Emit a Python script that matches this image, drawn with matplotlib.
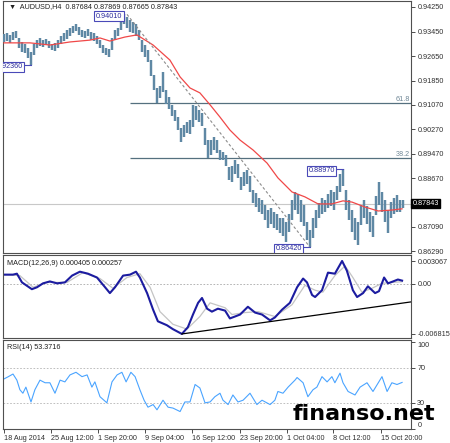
import matplotlib.pyplot as plt
import matplotlib.transforms as mtransforms

plt.rcParams['font.family'] = ['Liberation Sans', 'DejaVu Sans']

# ---- AUDUSD H4, bar index counted from the left edge of the chart ----
high = [0.9337, 0.9340, 0.9334, 0.9344, 0.9347, 0.9324, 0.9311, 0.9304, 0.9291, 0.9278,
        0.9304, 0.9317, 0.9324, 0.9317, 0.9321, 0.9314, 0.9304, 0.9308, 0.9317, 0.9330,
        0.9340, 0.9350, 0.9357, 0.9363, 0.9370, 0.9360, 0.9350, 0.9347, 0.9353, 0.9344,
        0.9340, 0.9330, 0.9317, 0.9301, 0.9291, 0.9288, 0.9324, 0.9350, 0.9357, 0.9389,
        0.9401, 0.9392, 0.9383, 0.9376, 0.9370, 0.9350, 0.9317, 0.9301, 0.9285, 0.9252,
        0.9203, 0.9161, 0.9167, 0.9213, 0.9154, 0.9132, 0.9106, 0.9089, 0.9066, 0.9031,
        0.9040, 0.9050, 0.9057, 0.9106, 0.9102, 0.9089, 0.9079, 0.9031, 0.8991, 0.8991,
        0.9001, 0.8991, 0.8959, 0.8952, 0.8943, 0.8903, 0.8907, 0.8926, 0.8913, 0.8871,
        0.8887, 0.8894, 0.8874, 0.8828, 0.8819, 0.8802, 0.8796, 0.8780, 0.8763, 0.8770,
        0.8757, 0.8750, 0.8737, 0.8737, 0.8724, 0.8750, 0.8796, 0.8822, 0.8815, 0.8796,
        0.8780, 0.8724, 0.8698, 0.8737, 0.8763, 0.8786, 0.8802, 0.8796, 0.8815, 0.8828,
        0.8822, 0.8841, 0.8881, 0.8897, 0.8828, 0.8796, 0.8763, 0.8737, 0.8724, 0.8780,
        0.8796, 0.8776, 0.8757, 0.8744, 0.8809, 0.8855, 0.8822, 0.8796, 0.8763, 0.8789,
        0.8802, 0.8812, 0.8796, 0.8796]
low = [0.9311, 0.9314, 0.9308, 0.9317, 0.9324, 0.9291, 0.9278, 0.9275, 0.9259, 0.9236,
       0.9269, 0.9291, 0.9298, 0.9295, 0.9301, 0.9291, 0.9285, 0.9282, 0.9291, 0.9304,
       0.9314, 0.9321, 0.9330, 0.9340, 0.9347, 0.9334, 0.9327, 0.9324, 0.9330, 0.9317,
       0.9314, 0.9304, 0.9291, 0.9275, 0.9269, 0.9262, 0.9285, 0.9317, 0.9330, 0.9350,
       0.9370, 0.9357, 0.9344, 0.9340, 0.9330, 0.9317, 0.9278, 0.9262, 0.9246, 0.9200,
       0.9154, 0.9112, 0.9128, 0.9148, 0.9109, 0.9093, 0.9070, 0.9053, 0.9024, 0.8985,
       0.9001, 0.9014, 0.9011, 0.9034, 0.9057, 0.9050, 0.9037, 0.8975, 0.8933, 0.8943,
       0.8959, 0.8949, 0.8926, 0.8926, 0.8907, 0.8861, 0.8855, 0.8881, 0.8868, 0.8828,
       0.8841, 0.8848, 0.8822, 0.8786, 0.8773, 0.8757, 0.8750, 0.8731, 0.8705, 0.8718,
       0.8705, 0.8698, 0.8688, 0.8678, 0.8659, 0.8692, 0.8731, 0.8763, 0.8750, 0.8724,
       0.8711, 0.8665, 0.8642, 0.8672, 0.8705, 0.8737, 0.8750, 0.8757, 0.8770, 0.8776,
       0.8763, 0.8796, 0.8822, 0.8841, 0.8763, 0.8731, 0.8692, 0.8665, 0.8649, 0.8714,
       0.8737, 0.8718, 0.8692, 0.8675, 0.8747, 0.8780, 0.8757, 0.8724, 0.8688, 0.8737,
       0.8750, 0.8757, 0.8757, 0.8770]
bars = list(range(len(high)))
last_price = 0.87843

# moving average (red)
ma_x = [0, 8.7, 15.3, 22, 28.7, 32, 35.3, 40.3, 44.3, 49.7, 55.3, 58.7, 62, 65.3, 68.7, 72,
        75.3, 78.7, 83, 87.7, 91.3, 96, 100.3, 104.7, 109.3, 113, 116, 120.3, 124.7, 129.3, 132.7]
ma_y = [0.9308, 0.9308, 0.9301, 0.9311, 0.9317, 0.9324, 0.9314, 0.9327, 0.9334, 0.9301, 0.9252,
        0.9197, 0.9161, 0.9145, 0.9106, 0.9066, 0.9024, 0.8991, 0.8959, 0.8916, 0.8868, 0.8822,
        0.8806, 0.8783, 0.8783, 0.8793, 0.8789, 0.8773, 0.8760, 0.8763, 0.8767]

# swing labels: value, bar of the extreme, bar where the label box ends
swing_val = [0.94010, 0.92360, 0.88970, 0.86420]
swing_bar = [40, 9, 113, 102]
swing_lab = [39.4, 6.3, 110.3, 99.3]

# trend line high -> low, fibonacci levels
trend_x = [41, 102]
trend_y = [0.9401, 0.8642]
fib_ratio = [0.618, 0.382]
fib_text = ['61.8', '38.2']
fib_start = 42

price_ticks = [0.94250, 0.93450, 0.92650, 0.91850, 0.91070, 0.90270, 0.89470, 0.88670, 0.87090, 0.86290]

# MACD(12,26,9)
macd_x = [0, 3, 4.3, 6, 9.3, 11, 13, 15.3, 17.7, 20.3, 22.7, 25.3, 28, 31, 33.7, 35.3, 37, 39.7, 42, 44,
          45.3, 47.7, 49.7, 51.3, 54.3, 56.3, 59.3, 61.3, 63, 64.7, 66, 67.7, 69.3, 71.3, 73.7, 75.3, 77,
          78.7, 81.3, 83.7, 86, 88.7, 90.3, 92.7, 95.3, 97.7, 99.7, 101, 102.7, 103.7, 106, 108, 110.3,
          112.7, 114.3, 116.3, 117.7, 119.7, 121.3, 123.7, 125, 126.7, 128, 129.7, 131.3, 132.7]
macd_v = [0.00122, 0.00122, 0.00135, 0.00017, -0.00075, -0.00049, 0.00004, 0.00030, 0.00004, 0.00017,
          0.00109, 0.00162, 0.00135, 0.00083, -0.00049, -0.00128, -0.00049, 0.00109, 0.00122, 0.00162,
          0.00083, -0.00128, -0.00352, -0.00510, -0.00563, -0.00616, -0.00681, -0.00589, -0.00418, -0.00260,
          -0.00194, -0.00339, -0.00379, -0.00339, -0.00365, -0.00471, -0.00445, -0.00418, -0.00313, -0.00392,
          -0.00418, -0.00497, -0.00458, -0.00352, -0.00260, -0.00049, 0.00069, 0.00017, -0.00154, -0.00181,
          -0.00089, 0.00149, 0.00135, 0.00307, 0.00175, -0.00089, -0.00181, -0.00128, -0.00036, -0.00128,
          -0.00102, 0.00083, 0.00004, 0.00030, 0.00056, 0.00041]
sig_x = [0, 5.3, 9.7, 14.3, 21, 26.3, 32, 36.3, 41, 45.3, 48.7, 52, 56.3, 61, 65.3, 68.7, 73.7, 76,
         80.3, 84.7, 90.3, 96, 100.3, 103.7, 106.3, 110.3, 113.7, 116.3, 119.3, 122.7, 126, 129.3, 132.7]
sig_v = [0.00122, 0.00109, -0.00049, 0.00017, 0.00017, 0.00149, 0.00069, -0.00062, 0.00083, 0.00135,
         -0.00049, -0.00379, -0.00550, -0.00616, -0.00445, -0.00260, -0.00326, -0.00418, -0.00392,
         -0.00379, -0.00445, -0.00286, -0.00023, -0.00089, -0.00115, 0.00109, 0.00241, 0.00083,
         -0.00115, -0.00062, 0.00004, 0.00017, 0.00026]
macd_trend_x = [59.3, 135.7]
macd_trend_y = [-0.00681, -0.00247]
macd_ticks = [0.003067, 0.0, -0.006815]
macd_ticklabels = ['0.003067', '0.00', '-0.006815']

# RSI(14)
rsi_x = [0, 1.3, 3, 4.3, 5.3, 6.3, 7.3, 9, 10.3, 12,
         13.7, 15.3, 17, 18.7, 20.3, 22, 24, 26, 27.7, 29.3,
         30.3, 32, 34.3, 36, 37.7, 39.3, 40.7, 42.3, 43.7, 45.3,
         46.7, 48, 49.7, 51, 53, 54.7, 56.3, 58.7, 60.3, 62,
         63.7, 65.3, 67, 68.7, 70.3, 72, 73, 74.7, 76.3, 78,
         79.7, 82, 84.3, 86, 88.7, 90.3, 91.3, 93, 94.7, 97,
         97.7, 99.7, 101.3, 103, 104.3, 106, 107.7, 109.3, 110.3, 112,
         113, 114.7, 117, 118.7, 121, 123, 126, 127.7, 129.3, 131, 132.7]
rsi_v = [57.4, 59.7, 63, 56, 45, 41, 48, 31, 45, 56,
         53, 53, 41, 56, 54, 62, 65, 60, 62, 48,
         54, 37, 30, 54, 62, 65, 54, 65, 60, 45,
         33, 25, 28, 22, 33, 25, 24, 20, 31, 31,
         51, 47, 30, 31, 37, 41, 33, 28, 39, 31,
         33, 41, 28, 33, 28, 33, 43, 41, 48, 56,
         59, 53, 37, 45, 48, 60, 54, 60, 53, 64,
         53, 43, 39, 48, 53, 43, 60, 43, 53, 51, 53.37]

date_pos = [0, 15.67, 31.33, 47, 62.67, 78.67, 94.33, 109.67, 125.67]
date_labels = ['18 Aug 2014', '25 Aug 12:00', '1 Sep 20:00', '9 Sep 04:00', '16 Sep 12:00',
               '23 Sep 20:00', '1 Oct 04:00', '8 Oct 12:00', '15 Oct 20:00']

# ---- layout (pixel boxes of the three windows) ----
W, H = 450.0, 443.0
fig = plt.figure(figsize=(4.5, 4.43), dpi=100)

def box(x0, y0, x1, y1):
    return [x0 / W, 1 - y1 / H, (x1 - x0) / W, (y1 - y0) / H]

ax1 = fig.add_axes(box(3, 1, 411, 253))
ax2 = fig.add_axes(box(3, 255, 411, 338))
ax3 = fig.add_axes(box(3, 340, 411, 429))
xmin, xmax = -0.33, 135.67
fs = 5.2

for ax in (ax1, ax2, ax3):
    ax.set_xlim(xmin, xmax)
    ax.yaxis.tick_right()
    ax.tick_params(axis='y', labelsize=fs, length=3, width=0.6, pad=1.5, colors='#303030')
    for sp in ax.spines.values():
        sp.set_color('#505050')
        sp.set_linewidth(0.8)
for ax in (ax1, ax2):
    ax.tick_params(axis='x', bottom=False, labelbottom=False)

# ---- price window ----
ax1.set_ylim(0.8623, 0.94445)
ax1.axhline(last_price, color='#c8c8c8', lw=0.8, zorder=1)
hi_, lo_ = trend_y[0], trend_y[1]
for r, t in zip(fib_ratio, fib_text):
    lvl = lo_ + r * (hi_ - lo_)
    ax1.hlines(lvl, fib_start, xmax, color='#55707f', lw=0.9, zorder=2)
    ax1.text(xmax - 0.4, lvl, t, ha='right', va='bottom', fontsize=fs, color='#6f8796')
ax1.vlines(bars, low, high, color='#5f88a4', lw=1.75, zorder=3)
ax1.plot(ma_x, ma_y, color='#f04848', lw=0.9, zorder=4)
ax1.plot(trend_x, trend_y, color='#8c8c8c', lw=0.8, ls=(0, (2.5, 2)), zorder=4)
for v, b, lb in zip(swing_val, swing_bar, swing_lab):
    ax1.plot([lb, b], [v, v], color='#4a4ab8', lw=0.8, zorder=5)
    ax1.annotate(f'{v:.5f}', xy=(lb, v), xytext=(0, -1.2), textcoords='offset points',
                 ha='right', va='center', fontsize=fs, color='#2c2c9c', zorder=6,
                 annotation_clip=False, clip_on=True,
                 bbox=dict(boxstyle='square,pad=0.2', fc='white', ec='#4a4ab8', lw=0.8))
ax1.set_yticks(price_ticks)
ax1.set_yticklabels([f'{v:.5f}' for v in price_ticks])
trans = mtransforms.blended_transform_factory(ax1.transAxes, ax1.transData)
ax1.text(1.004, last_price, f'{last_price:.5f}', transform=trans, ha='left', va='center',
         fontsize=fs, color='white', clip_on=False,
         bbox=dict(boxstyle='square,pad=0.2', fc='black', ec='black'))
ax1.text(0.014, 0.977, '\u25bc  AUDUSD,H4  0.87684 0.87869 0.87665 0.87843', transform=ax1.transAxes,
         ha='left', va='center', fontsize=fs, color='#202020', zorder=7)

# ---- MACD window ----
ax2.set_ylim(-0.00736, 0.00388)
ax2.axhline(0, color='#a8a8a8', lw=0.6, ls=(0, (2, 2)))
ax2.plot(sig_x, sig_v, color='#c4c4c4', lw=0.9)
ax2.plot(macd_x, macd_v, color='#1c1ca0', lw=1.5)
ax2.plot(macd_trend_x, macd_trend_y, color='black', lw=0.9)
ax2.set_yticks(macd_ticks)
ax2.set_yticklabels(macd_ticklabels)
ax2.text(0.01, 0.9, 'MACD(12,26,9) 0.000405 0.000257', transform=ax2.transAxes,
         ha='left', va='center', fontsize=fs, color='#202020')

# ---- RSI window ----
ax3.set_ylim(0, 102)
for lv in (70, 30):
    ax3.axhline(lv, color='#b4b4b4', lw=0.6, ls=(0, (2, 2)))
ax3.plot(rsi_x, rsi_v, color='#4aa4ff', lw=0.8)
ax3.set_yticks([100, 70, 30, 0])
ax3.set_yticklabels(['100', '70', '30', '0'])
ylabs = ax3.get_yticklabels()
ylabs[0].set_va('top')
ylabs[3].set_va('bottom')
ax3.text(0.01, 0.92, 'RSI(14) 53.3716', transform=ax3.transAxes,
         ha='left', va='center', fontsize=fs, color='#202020')
ax3.set_xticks(date_pos)
ax3.set_xticklabels(date_labels, ha='left')
ax3.tick_params(axis='x', labelsize=fs, length=3, width=0.6, pad=1.5, colors='#303030')

fig.text(364 / W, 1 - 414 / H, 'finanso.net', fontsize=16, fontweight='bold',
         family='DejaVu Sans', ha='center', va='center', color='black')

fig.savefig('out.png', dpi=100)
